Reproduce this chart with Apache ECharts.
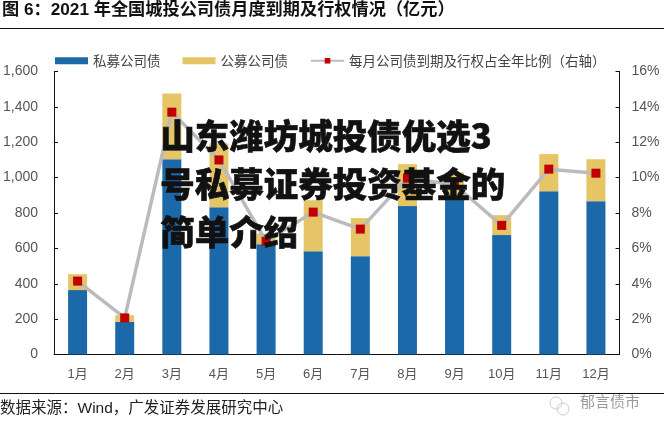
<!DOCTYPE html>
<html><head><meta charset="utf-8">
<style>html,body{margin:0;padding:0;background:#fff}#c{width:664px;height:431px}</style>
<script src="https://cdn.jsdelivr.net/npm/echarts@6/dist/echarts.min.js"></script>
</head><body><div id="c"></div>
<script>
const months = ['1月','2月','3月','4月','5月','6月','7月','8月','9月','10月','11月','12月'];
const privateBonds = [364,185,1104,833,624,584,556,839,900,675,923,867];
const publicBonds = [90,37,372,360,60,288,215,237,129,113,210,237];
const ratio = [4.15,2.07,13.7,11.0,6.4,8.05,7.09,9.97,9.6,7.3,10.48,10.25];
const seriesNames = ['私募公司债','公募公司债','每月公司债到期及行权占全年比例（右轴）'];
const titleText = '图 6：2021 年全国城投公司债月度到期及行权情况（亿元）';
const sourceText = '数据来源：Wind，广发证券发展研究中心';
const overlayLines = ['山东潍坊城投债优选3','号私募证券投资基金的','简单介绍'];
const watermark = '郁言债市';

const latin = '"Liberation Sans","Noto Sans CJK SC",sans-serif';
const cjk = '"Noto Sans CJK SC",sans-serif';
const chart = echarts.init(document.getElementById('c'), null, {renderer:'canvas'});
const graphics = [
  {type:'text',left:2,top:2,silent:true,style:{text:titleText,font:'bold 17.2px '+latin,fill:'#111'}},
  {type:'line',silent:true,shape:{x1:0,y1:28.5,x2:664,y2:28.5},style:{stroke:'#111',lineWidth:1}},
  {type:'line',silent:true,shape:{x1:0,y1:393.5,x2:664,y2:393.5},style:{stroke:'#111',lineWidth:1}},
  {type:'text',left:0,top:401,silent:true,style:{text:sourceText,font:'15.5px '+latin,fill:'#222'}},
  {type:'text',left:580,top:394,silent:true,style:{text:watermark,font:'15px '+cjk,fill:'#999'}},
  {type:'circle',silent:true,shape:{cx:556,cy:403,r:6},style:{fill:'none',stroke:'#ccc',lineWidth:1}},
  {type:'circle',silent:true,shape:{cx:563,cy:409,r:6},style:{fill:'none',stroke:'#ccc',lineWidth:1}}
];
overlayLines.forEach((t,i)=>graphics.push({type:'text',left:160,top:118+i*48,z:100,silent:true,
  style:{text:t,font:'900 34.5px '+cjk,fill:'#111',stroke:'#111',lineWidth:0.6}}));

chart.setOption({
  animation:false,
  backgroundColor:'#fff',
  textStyle:{fontFamily:latin},
  legend:{left:55,top:54,padding:0,itemWidth:33,itemHeight:7,itemGap:22,
    textStyle:{fontFamily:cjk,fontSize:13.5,color:'#444'},
    data:[{name:seriesNames[0],icon:'rect'},{name:seriesNames[1],icon:'rect'},{name:seriesNames[2]}]},
  grid:{left:53.5,right:44.5,top:71.5,bottom:76.5},
  xAxis:{type:'category',data:months,
    axisLine:{lineStyle:{color:'#111',width:1}},axisTick:{show:false},
    axisLabel:{fontFamily:latin,fontSize:13,color:'#555',margin:13}},
  yAxis:[
    {type:'value',min:0,max:1600,interval:200,splitLine:{show:false},
      axisLine:{show:true,lineStyle:{color:'#111',width:1}},
      axisTick:{show:true,inside:true,length:4,lineStyle:{color:'#111'}},
      axisLabel:{fontFamily:latin,fontSize:14,color:'#555',margin:16,
        formatter:v=>v.toLocaleString('en-US')}},
    {type:'value',min:0,max:16,interval:2,splitLine:{show:false},
      axisLine:{show:true,lineStyle:{color:'#111',width:1}},
      axisTick:{show:true,inside:true,length:4,lineStyle:{color:'#111'}},
      axisLabel:{fontFamily:latin,fontSize:14,color:'#555',margin:12,formatter:'{value}%'}}
  ],
  series:[
    {name:seriesNames[0],type:'bar',stack:'a',barWidth:19,data:privateBonds,itemStyle:{color:'#1B69A8'}},
    {name:seriesNames[1],type:'bar',stack:'a',barWidth:19,data:publicBonds,itemStyle:{color:'#E5C565'}},
    {name:seriesNames[2],type:'line',yAxisIndex:1,data:ratio,symbol:'rect',symbolSize:9,
      lineStyle:{color:'#BBBBBB',width:3.5},itemStyle:{color:'#C00000'}}
  ],
  graphic:graphics
});
</script></body></html>
